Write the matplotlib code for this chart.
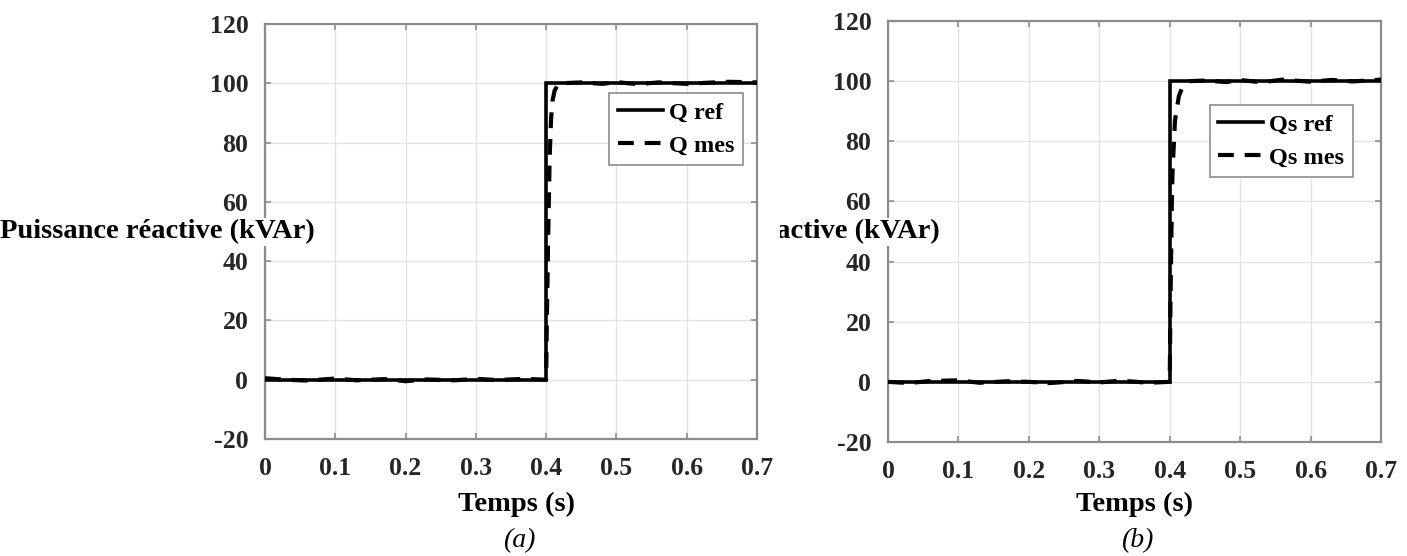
import matplotlib
matplotlib.use("Agg")
import matplotlib.pyplot as plt
from matplotlib.transforms import Bbox, TransformedBbox

# ---------------- data ----------------
x_ticks = [0, 0.1, 0.2, 0.3, 0.4, 0.5, 0.6, 0.7]
x_tick_labels = ["0", "0.1", "0.2", "0.3", "0.4", "0.5", "0.6", "0.7"]
y_ticks = [-20, 0, 20, 40, 60, 80, 100, 120]
y_tick_labels = ["-20", "0", "20", "40", "60", "80", "100", "120"]

# panel (a)
t_ref_a = [0.0, 0.4, 0.4, 0.7]
q_ref_a = [0.0, 0.0, 100.0, 100.0]
t_mes_a = [0.0, 0.03, 0.06, 0.1, 0.13, 0.17, 0.2, 0.23, 0.27, 0.3, 0.33, 0.37, 0.4,
           0.401, 0.403, 0.405, 0.407, 0.409, 0.412, 0.416, 0.42,
           0.45, 0.48, 0.5, 0.53, 0.56, 0.6, 0.63, 0.66, 0.7]
q_mes_a = [0.5, 0.0, -0.3, 0.4, -0.2, 0.2, -0.5, 0.1, -0.2, 0.3, -0.1, 0.3, 0.0,
           20, 50, 75, 88, 94, 97.5, 99.3, 100.0,
           100.3, 99.8, 100.4, 99.7, 100.3, 99.8, 100.2, 100.5, 100.3]

# panel (b)
t_ref_b = [0.0, 0.4, 0.4, 0.7]
q_ref_b = [0.0, 0.0, 100.0, 100.0]
t_mes_b = [0.0, 0.03, 0.06, 0.1, 0.13, 0.17, 0.2, 0.23, 0.27, 0.3, 0.33, 0.37, 0.4,
           0.401, 0.403, 0.404, 0.4075, 0.413, 0.418, 0.428,
           0.45, 0.48, 0.5, 0.53, 0.56, 0.6, 0.63, 0.66, 0.7]
q_mes_b = [0.0, -0.4, 0.3, 0.5, -0.3, 0.2, 0.0, -0.4, 0.3, -0.2, 0.4, -0.3, 0.0,
           25, 59, 70, 87, 95, 98, 100.0,
           100.2, 99.7, 100.4, 99.6, 100.5, 99.8, 100.4, 99.9, 100.5]

legend_a = ["Q ref", "Q mes"]
legend_b = ["Qs ref", "Qs mes"]
ylabel_text = "Puissance réactive (kVAr)"
xlabel_text = "Temps (s)"
captions = ["(a)", "(b)"]

# ---------------- layout ----------------
W, H = 1407, 556
DPI = 100
fig = plt.figure(figsize=(W / DPI, H / DPI), dpi=DPI)
fig.patch.set_facecolor("white")

SERIF = ["Liberation Serif", "DejaVu Serif"]

def px_rect(x0, y0, x1, y1):
    return [x0 / W, 1 - y1 / H, (x1 - x0) / W, (y1 - y0) / H]

ax_a = fig.add_axes(px_rect(265, 24, 757, 439))
ax_b = fig.add_axes(px_rect(888, 21, 1381, 442))

spine_col = "#8c8c8c"
tick_col = "#262626"

panels = [
    (ax_a, t_ref_a, q_ref_a, t_mes_a, q_mes_a, legend_a, (0.9715, 0.8337)),
    (ax_b, t_ref_b, q_ref_b, t_mes_b, q_mes_b, legend_b, (0.943, 0.800)),
]

for ax, tr, qr, tm, qm, leg, anchor in panels:
    ax.plot(tr, qr, color="black", lw=2.6, solid_joinstyle="miter", label=leg[0], zorder=3)
    ax.plot(tm, qm, color="black", lw=3.0, linestyle=(0, (3.8, 2.6)), label=leg[1], zorder=4)
    ax.set_xlim(0, 0.7)
    ax.set_ylim(-20, 120)
    ax.set_xticks(x_ticks)
    ax.set_xticklabels(x_tick_labels)
    ax.set_yticks(y_ticks)
    ax.set_yticklabels(y_tick_labels)
    ax.grid(True, color="#e3e3e3", lw=1.0)
    for sp in ax.spines.values():
        sp.set_color(spine_col)
        sp.set_linewidth(1.6)
    ax.tick_params(axis="both", direction="in", length=4, width=1.2, color=spine_col,
                   top=True, right=True, labelcolor=tick_col)
    ax.tick_params(axis="x", pad=13)
    ax.tick_params(axis="y", pad=12)
    for lab in ax.get_xticklabels() + ax.get_yticklabels():
        lab.set_family(SERIF)
        lab.set_fontweight("bold")
        lab.set_fontsize(18.5)

    lg = ax.legend(loc="upper right", bbox_to_anchor=anchor, borderaxespad=0,
                   frameon=True, fancybox=False, framealpha=1, edgecolor="#8c8c8c",
                   prop={"family": SERIF, "weight": "bold", "size": 17.5},
                   handlelength=1.85, handletextpad=0.25, borderpad=0.35,
                   labelspacing=0.45)
    lg.get_frame().set_linewidth(1.2)

    ax.set_xlabel(xlabel_text, fontfamily=SERIF, fontweight="bold", fontsize=20.5)

# x labels positioned in figure pixels
ax_a.xaxis.set_label_coords(516 / W, 1 - 504 / H, transform=fig.transFigure)
ax_b.xaxis.set_label_coords(1134 / W, 1 - 504 / H, transform=fig.transFigure)
for ax in (ax_a, ax_b):
    ax.xaxis.label.set_va("center")

# y labels (horizontal, white background)
ylab_a = ax_a.text(315 / W, 1 - 232 / H, ylabel_text, transform=fig.transFigure,
                   ha="right", va="center", fontfamily=SERIF, fontweight="bold",
                   fontsize=20.5, zorder=10, clip_on=False,
                   bbox=dict(facecolor="white", edgecolor="none", pad=1))
ylab_b = ax_b.text(940 / W, 1 - 232 / H, ylabel_text, transform=fig.transFigure,
                   ha="right", va="center", fontfamily=SERIF, fontweight="bold",
                   fontsize=20.5, zorder=10,
                   bbox=dict(facecolor="white", edgecolor="none", pad=1))
ylab_b.set_clip_box(TransformedBbox(Bbox([[780 / W, 0], [1, 1]]), fig.transFigure))
ylab_b.set_clip_on(True)

# captions
fig.text(519 / W, 1 - 541 / H, captions[0], ha="center", va="center",
         fontfamily=SERIF, fontstyle="italic", fontsize=20)
fig.text(1137 / W, 1 - 541 / H, captions[1], ha="center", va="center",
         fontfamily=SERIF, fontstyle="italic", fontsize=20)

fig.savefig("out.png", dpi=DPI, facecolor="white")
